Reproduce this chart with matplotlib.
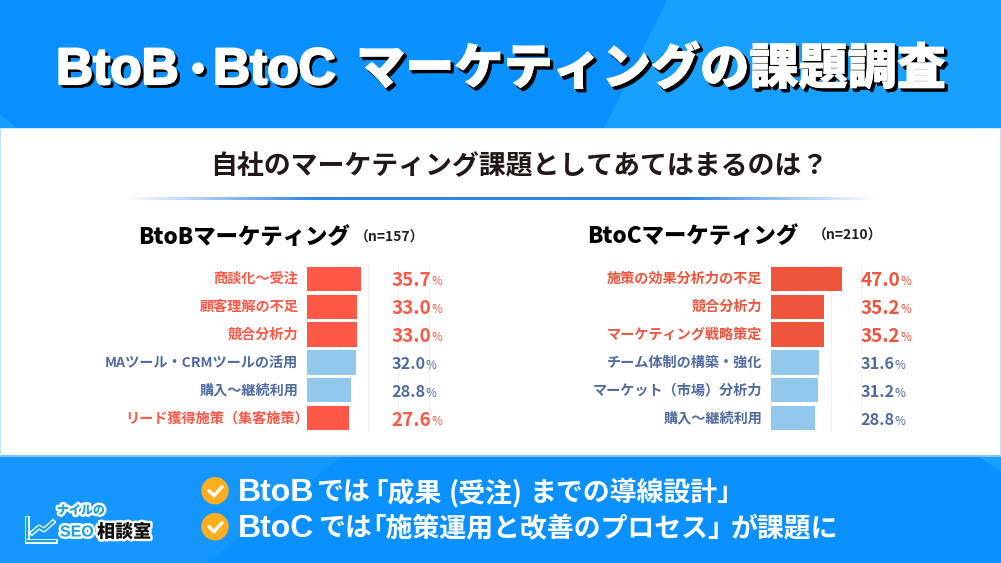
import matplotlib
matplotlib.use("Agg")
import matplotlib.pyplot as plt
import matplotlib.patheffects as pe
from matplotlib.patches import Polygon, Rectangle, Circle
import numpy as np

plt.rcParams['font.family'] = ['Noto Sans CJK JP', 'DejaVu Sans']

question = "自社のマーケティング課題としてあてはまるのは？"
left_title = "BtoBマーケティング"
left_n = "（n=157）"
right_title = "BtoCマーケティング"
right_n = "（n=210）"

left_labels = ["商談化〜受注", "顧客理解の不足", "競合分析力", "MAツール・CRMツールの活用", "購入〜継続利用", "リード獲得施策（集客施策）"]
left_values = [35.7, 33.0, 33.0, 32.0, 28.8, 27.6]
left_hot = [True, True, True, False, False, True]

right_labels = ["施策の効果分析力の不足", "競合分析力", "マーケティング戦略策定", "チーム体制の構築・強化", "マーケット（市場）分析力", "購入〜継続利用"]
right_values = [47.0, 35.2, 35.2, 31.6, 31.2, 28.8]
right_hot = [True, True, True, False, False, False]

W, H = 1001, 563
BLUE = "#0a90ff"
HEAD_LIGHT = "#18a0ff"
FOOT_LIGHT = "#1597ff"
NAVY = "#4f6b9f"
LIGHTBAR = "#92c8ec"
LATIN = ['Liberation Sans', 'DejaVu Sans']


def panel(x0, x1, labels, values, hot, hot_color, xmax, val_x):
    ax = fig.add_axes([x0 / W, 1 - 432 / H, (x1 - x0) / W, 167 / H])
    ypos = np.arange(len(values))
    colors = [hot_color if h else LIGHTBAR for h in hot]
    ax.barh(ypos, values, height=0.88, color=colors, zorder=3)
    ax.set_xlim(0, xmax)
    ax.set_ylim(5.5, -0.5)
    ax.set_xticks(np.arange(0, xmax + 1, 20))
    ax.set_yticks([])
    ax.tick_params(length=0, labelbottom=False)
    ax.grid(axis='x', color="#eef0f6", lw=0.8, zorder=0)
    ax.patch.set_alpha(0)
    for s in ax.spines.values():
        s.set_visible(False)
    for i, (lab, v, h) in enumerate(zip(labels, values, hot)):
        c = hot_color if h else NAVY
        # closing bracket has blank space in its glyph, the original hangs it out
        nudge = 11 if lab.endswith("）") else 0
        ax.annotate(lab, (0, i), xytext=(-9 + nudge, 0), textcoords='offset pixels',
                    ha='right', va='center', fontsize=10.2, fontweight='bold', color=c)
        ax.annotate(f"{v:.1f}", (0, i), xytext=(val_x, -2), textcoords='offset pixels',
                    ha='left', va='center', fontsize=13.6 if h else 11.7, fontweight='bold', color=c)
        ax.annotate("%", (0, i), xytext=(val_x + (40 if h else 34), -3), textcoords='offset pixels',
                    ha='left', va='center', fontsize=8.5, color=c)
    return ax


def shadow_text(x, y, s, size, family, stroke):
    # hard black drop shadow under the white title, all in one text
    effects = [pe.SimplePatchShadow(offset=(dx, -dx), shadow_rgbFace='black', alpha=1)
               for dx in (0.7, 1.4, 2.1, 2.6)]
    effects += [pe.SimplePatchShadow(offset=(2.6, -1.7), shadow_rgbFace='black', alpha=1),
                pe.SimplePatchShadow(offset=(1.7, -2.6), shadow_rgbFace='black', alpha=1),
                pe.Stroke(linewidth=stroke, foreground='white'), pe.Normal()]
    bg.text(x, y, s, ha='left', va='baseline', fontsize=size, fontweight='black',
            family=family, color='white', zorder=6, path_effects=effects)


fig = plt.figure(figsize=(W / 100, H / 100), dpi=100, facecolor="white")
bg = fig.add_axes([0, 0, 1, 1])
bg.axis('off')

# header and footer bands
bg.add_patch(Rectangle((0, 0), W, 128, color=BLUE, lw=0))
bg.add_patch(Polygon([[667, 0], [1001, 0], [1001, 128], [604, 128]], color=HEAD_LIGHT, lw=0))
bg.add_patch(Polygon([[0, 114], [16, 128], [0, 128]], color=HEAD_LIGHT, lw=0))
bg.add_patch(Rectangle((0, 456), W, 107, color=BLUE, lw=0))
bg.add_patch(Polygon([[0, 456], [343, 456], [207, 563], [0, 563]], color=FOOT_LIGHT, lw=0))
bg.add_patch(Polygon([[978, 456], [1001, 456], [1001, 472]], color=HEAD_LIGHT, lw=0))
bg.add_patch(Rectangle((0, 455), W, 1.5, color="#7cc4ff", lw=0))
bg.add_patch(Rectangle((0, 128), W, 1, color="#cfeaff", lw=0))
bg.add_patch(Rectangle((0, 128), 1, 328, color="#bfe3ff", lw=0))
bg.add_patch(Rectangle((1000, 128), 1, 328, color="#bfe3ff", lw=0))

# title, latin and kana set separately like the original
shadow_text(56, 84, "BtoB", 37, LATIN, 1.6)
shadow_text(180, 82, "・", 26, ['Noto Sans CJK JP'], 1.2)
shadow_text(213, 84, "BtoC", 37, LATIN, 1.6)
shadow_text(356, 84, "マーケティングの課題調査", 35.4, ['Noto Sans CJK JP'], 0.6)

# question and divider
bg.text(519, 166, question, ha='center', va='center', fontsize=19.4, fontweight='bold', color="#231815")
grad = np.linspace(0, 1, 256)
rgba = np.zeros((1, 256, 4))
rgba[..., :3] = matplotlib.colors.to_rgb("#2f86ec")
rgba[..., 3] = np.minimum(1, np.minimum(grad, 1 - grad) * 4)
bg.imshow(rgba, extent=(123, 878, 200, 197.5), aspect='auto', zorder=2)
bg.set_xlim(0, W)
bg.set_ylim(H, 0)

# panel headings
bg.text(138, 237, left_title, ha='left', va='center', fontsize=16.1, fontweight='black', color='black')
bg.text(355, 238, left_n, ha='left', va='center', fontsize=10, fontweight='bold', color='#222222')
bg.text(587, 236, right_title, ha='left', va='center', fontsize=16.1, fontweight='black', color='black')
bg.text(813, 236, right_n, ha='left', va='center', fontsize=10, fontweight='bold', color='#222222')

panel(307.3, 459, left_labels, left_values, left_hot, "#ff5745", 100, 84)
panel(771.3, 891.5, right_labels, right_values, right_hot, "#ef553c", 80, 89)

# footer bullets
for y in [490.7, 526.7]:
    bg.add_patch(Circle((215, y), 13.7, color="#fdae1e", lw=0, zorder=3))
    bg.plot([209, 214, 222], [y, y + 5, y - 4], color='white', lw=2.4, zorder=4, solid_capstyle='round')


def foot(x, y, s, latin=False):
    bg.text(x, y, s, ha='left', va='baseline', fontsize=23 if latin else 19.4, fontweight='bold',
            family=LATIN if latin else ['Noto Sans CJK JP'], color='white', zorder=4)


# half width brackets because the original sets them tight
foot(238, 501, "BtoB", True)
foot(316, 501, "では")
foot(374, 501, "｢成果")
foot(449, 501, "(受注)")
foot(530, 501, "までの導線設計｣")
foot(238, 537, "BtoC", True)
foot(318, 537, "では")
foot(372.5, 537, "｢施策運用と改善のプロセス｣")
foot(731, 537, "が課題に")

# logo
halo = [pe.Stroke(linewidth=3.5, foreground='white'), pe.Normal()]
bg.text(57, 510, "ナイルの", ha='left', va='center', fontsize=8.6, fontweight='black', color="#17a3d8", path_effects=halo)
bg.text(60, 532, "SEO", ha='left', va='center', fontsize=11.5, fontweight='bold',
        family=LATIN, color="#17a3d8", path_effects=halo)
bg.text(97, 532, "相談室", ha='left', va='center', fontsize=13, fontweight='black', color="#111111", path_effects=halo)
bg.plot([27, 27], [518, 538], color="#17a3d8", lw=1.6, zorder=3, path_effects=halo)
bg.plot([27, 55], [541, 541], color="#17a3d8", lw=1.6, zorder=3, path_effects=halo)
bg.plot([32, 39, 44, 53], [533, 527, 530, 522], color="#17a3d8", lw=1.6, zorder=3, path_effects=halo)

fig.savefig("out.png", dpi=100)
